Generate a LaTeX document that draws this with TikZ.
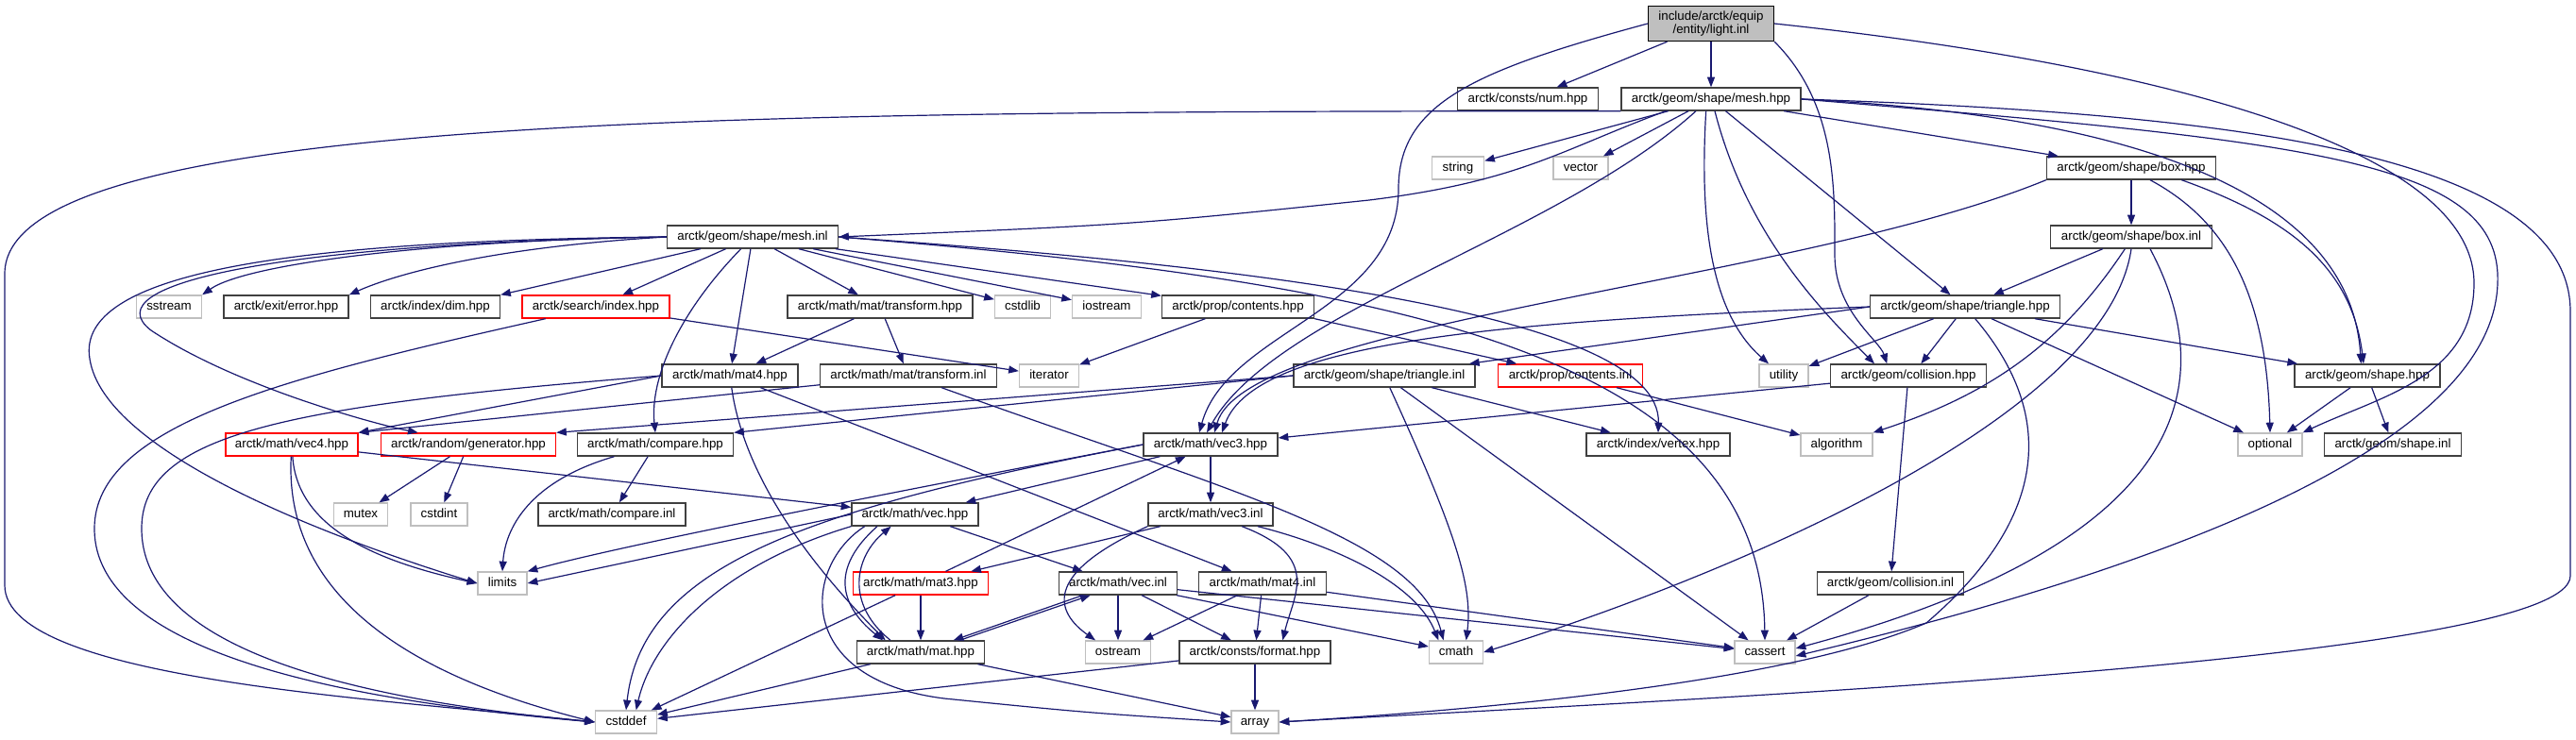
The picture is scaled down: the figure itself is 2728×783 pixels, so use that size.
\documentclass[tikz,border=0pt]{standalone}
\usepackage{fontspec}
\setmainfont{Liberation Sans}
\usetikzlibrary{arrows.meta}

\definecolor{edgeblue}{RGB}{25,25,112}
\definecolor{sysgray}{RGB}{191,191,191}
\definecolor{docborder}{RGB}{64,64,64}

\begin{document}
\begin{tikzpicture}[
    x=0.75pt, y=-0.75pt,
    hdrbox/.style={draw=docborder, line width=1pt, fill=white, font=\fontsize{10}{12}\selectfont,
        minimum height=18pt, inner xsep=1pt, inner ysep=0pt, text height=7.2pt, text depth=2pt},
    sysbox/.style={hdrbox, draw=sysgray},
    cutbox/.style={hdrbox, draw=red},
    rootbox/.style={draw=black, line width=1pt, fill=sysgray, font=\fontsize{10}{11}\selectfont,
        minimum height=27.75pt, inner sep=1pt, align=center},
    incl/.style={draw=edgeblue, line width=0.9pt, -{Triangle[length=8pt, width=6pt]}}
]
    \useasboundingbox (0,0) rectangle (2728,783);

    % Root
    \node[rootbox, minimum width=99.75pt] (light) at (1812,25) {include/arctk/equip\\/entity/light.inl};

    % Row 1
    \node[hdrbox, minimum width=111.75pt] (num) at (1618,105) {arctk/consts/num.hpp};
    \node[hdrbox, minimum width=142.5pt] (meshhpp) at (1812,105) {arctk/geom/shape/mesh.hpp};

    % Row 2
    \node[sysbox, minimum width=41.25pt] (string) at (1544,178) {string};
    \node[sysbox, minimum width=43.5pt] (vector) at (1674,178) {vector};
    \node[hdrbox, minimum width=134.25pt] (boxhpp) at (2257,178) {arctk/geom/shape/box.hpp};

    % Row 3
    \node[hdrbox, minimum width=135.75pt] (meshinl) at (797,251) {arctk/geom/shape/mesh.inl};
    \node[hdrbox, minimum width=128.25pt] (boxinl) at (2257,251) {arctk/geom/shape/box.inl};

    % Row 4
    \node[sysbox, minimum width=51.75pt] (sstream) at (179,325) {sstream};
    \node[hdrbox, minimum width=99pt] (error) at (303,325) {arctk/exit/error.hpp};
    \node[hdrbox, minimum width=102.75pt] (dim) at (461,325) {arctk/index/dim.hpp};
    \node[cutbox, minimum width=117pt] (search) at (631,325) {arctk/search/index.hpp};
    \node[hdrbox, minimum width=147pt] (transform) at (932,325) {arctk/math/mat/transform.hpp};
    \node[sysbox, minimum width=44.25pt] (cstdlib) at (1083,325) {cstdlib};
    \node[sysbox, minimum width=54.75pt] (iostream) at (1172,325) {iostream};
    \node[hdrbox, minimum width=120.75pt] (contents) at (1311,325) {arctk/prop/contents.hpp};
    \node[hdrbox, minimum width=150.75pt] (trihpp) at (2081,325) {arctk/geom/shape/triangle.hpp};

    % Row 5
    \node[hdrbox, minimum width=108pt] (mat4) at (773,398) {arctk/math/mat4.hpp};
    \node[hdrbox, minimum width=140.25pt] (transinl) at (962,398) {arctk/math/mat/transform.inl};
    \node[sysbox, minimum width=47.25pt] (iterator) at (1111,398) {iterator};
    \node[hdrbox, minimum width=144pt] (triinl) at (1466,398) {arctk/geom/shape/triangle.inl};
    \node[cutbox, minimum width=114.75pt] (continl) at (1663,398) {arctk/prop/contents.inl};
    \node[sysbox, minimum width=39pt] (utility) at (1889,398) {utility};
    \node[hdrbox, minimum width=123.75pt] (collision) at (2021,398) {arctk/geom/collision.hpp};
    \node[hdrbox, minimum width=115.5pt] (shape) at (2507,398) {arctk/geom/shape.hpp};

    % Row 6
    \node[cutbox, minimum width=105pt] (vec4) at (309,471) {arctk/math/vec4.hpp};
    \node[cutbox, minimum width=138.75pt] (generator) at (496,471) {arctk/random/generator.hpp};
    \node[hdrbox, minimum width=123.75pt] (compare) at (694,471) {arctk/math/compare.hpp};
    \node[hdrbox, minimum width=106.5pt] (vec3) at (1282,471) {arctk/math/vec3.hpp};
    \node[hdrbox, minimum width=114pt] (vertex) at (1756,471) {arctk/index/vertex.hpp};
    \node[sysbox, minimum width=57pt] (algorithm) at (1945,471) {algorithm};
    \node[sysbox, minimum width=51pt] (optional) at (2404,471) {optional};
    \node[hdrbox, minimum width=108.75pt] (shapeinl) at (2534,471) {arctk/geom/shape.inl};

    % Row 7
    \node[sysbox, minimum width=42.75pt] (mutex) at (382,545) {mutex};
    \node[sysbox, minimum width=45pt] (cstdint) at (465,545) {cstdint};
    \node[hdrbox, minimum width=117pt] (compinl) at (648,545) {arctk/math/compare.inl};
    \node[hdrbox, minimum width=100.5pt] (vec) at (969,545) {arctk/math/vec.hpp};
    \node[hdrbox, minimum width=99pt] (vec3inl) at (1282,545) {arctk/math/vec3.inl};

    % Row 8
    \node[sysbox, minimum width=39pt] (limits) at (532,618) {limits};
    \node[cutbox, minimum width=107.25pt] (mat3) at (975,618) {arctk/math/mat3.hpp};
    \node[hdrbox, minimum width=93.75pt] (vecinl) at (1184,618) {arctk/math/vec.inl};
    \node[hdrbox, minimum width=101.25pt] (mat4inl) at (1337,618) {arctk/math/mat4.inl};
    \node[hdrbox, minimum width=116.25pt] (collinl) at (2002,618) {arctk/geom/collision.inl};

    % Row 9
    \node[hdrbox, minimum width=101.25pt] (mat) at (975,691) {arctk/math/mat.hpp};
    \node[sysbox, minimum width=51.75pt] (ostream) at (1184,691) {ostream};
    \node[hdrbox, minimum width=120pt] (format) at (1329,691) {arctk/consts/format.hpp};
    \node[sysbox, minimum width=42.75pt] (cmath) at (1542,691) {cmath};
    \node[sysbox, minimum width=48pt] (cassert) at (1869,691) {cassert};

    % Row 10
    \node[sysbox, minimum width=48.75pt] (cstddef) at (663,765) {cstddef};
    \node[sysbox, minimum width=37.5pt] (array) at (1329,765) {array};

    % light.inl
    \draw[incl] (light) -- (num);
    \draw[incl] (light) -- (meshhpp);
    \draw[incl] (light.west) .. controls (1560,75) and (1481,110) .. (1481,200) .. controls (1481,330) and (1300,350) .. ([xshift=-9pt]vec3.north);
    \draw[incl] (light.south east) .. controls (1945,110) and (1943,200) .. (1943,270) .. controls (1943,330) and (1990,360) .. ([xshift=-17pt]collision.north);
    \draw[incl] (light.east) .. controls (2300,70) and (2620,160) .. (2620,300) .. controls (2620,400) and (2520,420) .. (optional.north east);

    % mesh.hpp
    \draw[incl] ([xshift=-34pt]meshhpp.south) -- (string);
    \draw[incl] (meshhpp) -- (vector);
    \draw[incl] ([xshift=-36pt]meshhpp.south) .. controls (1650,160) and (1610,192) .. (1450,212) .. controls (1200,238) .. (meshinl.east);
    \draw[incl] (meshhpp.south west) .. controls (800,118) and (5,120) .. (5,290) -- (5,620) .. controls (5,720) and (400,740) .. (cstddef.west);
    \draw[incl] ([xshift=-12pt]meshhpp.south) .. controls (1650,250) and (1350,330) .. ([xshift=-3pt]vec3.north);
    \draw[incl] ([xshift=-4pt]meshhpp.south) .. controls (1800,230) and (1810,330) .. ([xshift=-12pt]utility.north);
    \draw[incl] ([xshift=3pt]meshhpp.south) .. controls (1850,250) and (1930,330) .. ([xshift=-27pt]collision.north);
    \draw[incl] (meshhpp) -- (trihpp);
    \draw[incl] (meshhpp) -- (boxhpp);
    \draw[incl] (meshhpp.east) .. controls (2300,125) and (2490,220) .. ([xshift=-5pt]shape.north);
    \draw[incl] (meshhpp.east) .. controls (2450,150) and (2650,170) .. (2645,300) .. controls (2640,470) and (2300,600) .. ([yshift=-3pt]cassert.east);
    \draw[incl] (meshhpp.east) .. controls (2350,120) and (2722,160) .. (2722,330) -- (2722,610) .. controls (2722,700) and (1800,740) .. (array.east);

    % box.hpp
    \draw[incl] (boxhpp) -- (boxinl);
    \draw[incl] (boxhpp.south west) .. controls (1900,300) and (1320,340) .. ([xshift=3pt]vec3.north);
    \draw[incl] ([xshift=15pt]boxhpp.south) .. controls (2350,230) and (2400,300) .. (optional.north);
    \draw[incl] ([xshift=40pt]boxhpp.south) .. controls (2420,230) and (2490,280) .. ([xshift=-3pt]shape.north);

    % box.inl
    \draw[incl] (boxinl) -- (trihpp);
    \draw[incl] ([xshift=-5pt]boxinl.south) .. controls (2180,370) and (2100,420) .. (algorithm.north east);
    \draw[incl] (boxinl.south) .. controls (2230,450) and (1800,620) .. (cmath.east);
    \draw[incl] ([xshift=15pt]boxinl.south) .. controls (2360,420) and (2300,580) .. ([yshift=3pt]cassert.east);

    % triangle.hpp
    \draw[incl] (trihpp.west) -- ([xshift=-5pt]triinl.north east);
    \draw[incl] (trihpp.west) .. controls (1600,340) and (1330,360) .. ([xshift=9pt]vec3.north);
    \draw[incl] (trihpp) -- (utility);
    \draw[incl] (trihpp) -- ([xshift=10pt]collision.north);
    \draw[incl] (trihpp) -- (shape);
    \draw[incl] (trihpp) -- (optional);
    \draw[incl] (trihpp) .. controls (2170,430) and (2180,540) .. (2040,660) .. controls (1900,720) and (1600,750) .. (array.east);

    % geometry leaves
    \draw[incl] (collision) -- (collinl);
    \draw[incl] (collision) -- (vec3);
    \draw[incl] (collinl) -- (cassert);
    \draw[incl] (shape) -- (optional);
    \draw[incl] (shape) -- (shapeinl);

    % mesh.inl
    \draw[incl] (meshinl.west) .. controls (450,255) and (260,280) .. (sstream.north east);
    \draw[incl] (meshinl.west) .. controls (520,262) and (420,290) .. (error.north east);
    \draw[incl] (meshinl) -- (dim.north east);
    \draw[incl] (meshinl) -- (search);
    \draw[incl] (meshinl.west) .. controls (300,255) and (80,290) .. (95,380) .. controls (110,480) and (350,570) .. (limits.west);
    \draw[incl] (meshinl.west) .. controls (300,258) and (95,300) .. (160,350) .. controls (250,410) and (400,450) .. ([xshift=-40pt]generator.north);
    \draw[incl] (meshinl) .. controls (720,330) and (688,400) .. (compare.north);
    \draw[incl] (meshinl) -- (mat4);
    \draw[incl] (meshinl) -- (transform);
    \draw[incl] (meshinl) -- (cstdlib);
    \draw[incl] (meshinl) -- (iostream);
    \draw[incl] (meshinl) -- (contents);
    \draw[incl] (meshinl.east) .. controls (1300,280) and (1760,330) .. (vertex.north);
    \draw[incl] (meshinl.east) .. controls (1500,300) and (1865,380) .. (cassert.north);

    % row 4 sources
    \draw[incl] (search) -- (iterator);
    \draw[incl] ([xshift=-40pt]search.south) .. controls (300,400) and (100,450) .. (100,560) .. controls (100,700) and (400,745) .. (cstddef.west);
    \draw[incl] (transform) -- (mat4);
    \draw[incl] (transform) -- (transinl);
    \draw[incl] (contents) -- (iterator);
    \draw[incl] (contents.south east) -- (continl);

    % row 5 sources
    \draw[incl] (mat4.west) -- (vec4.north east);
    \draw[incl] (mat4.west) .. controls (300,430) and (150,460) .. (150,560) .. controls (150,700) and (420,745) .. (cstddef.west);
    \draw[incl] (mat4) .. controls (790,520) and (880,620) .. ([xshift=-28pt]mat.north);
    \draw[incl] (mat4) -- (mat4inl);
    \draw[incl] (transinl) -- (vec4.north east);
    \draw[incl] (transinl) .. controls (1300,520) and (1500,570) .. ([xshift=-10pt]cmath.north);
    \draw[incl] (continl) -- (algorithm);
    \draw[incl] (triinl.west) -- (generator.north east);
    \draw[incl] (triinl.west) -- (compare.north east);
    \draw[incl] (triinl) -- (vertex);
    \draw[incl] (triinl) .. controls (1540,560) and (1560,620) .. ([xshift=8pt]cmath.north);
    \draw[incl] (triinl) -- (cassert);

    % row 6 sources
    \draw[incl] (vec4) -- (vec);
    \draw[incl] (vec4) .. controls (315,560) and (400,595) .. (limits.west);
    \draw[incl] (vec4) .. controls (300,640) and (450,720) .. (cstddef.west);
    \draw[incl] (generator) -- (mutex);
    \draw[incl] (generator) -- (cstdint);
    \draw[incl] (compare) .. controls (560,510) and (535,560) .. (limits.north);
    \draw[incl] (compare) -- (compinl);
    \draw[incl] (vec3) -- (vec);
    \draw[incl] (vec3) -- (vec3inl);
    \draw[incl] (vec3.west) .. controls (900,530) and (650,580) .. (limits.north east);
    \draw[incl] (vec3.west) .. controls (850,540) and (680,600) .. (cstddef.north);

    % row 7 sources
    \draw[incl] (vec) -- (vecinl);
    \draw[incl] (vec.west) -- (limits.east);
    \draw[incl] (vec.south west) .. controls (760,600) and (690,680) .. ([xshift=8pt]cstddef.north);
    \draw[incl] ([xshift=-30pt]vec.south) .. controls (870,610) and (900,650) .. ([xshift=-30pt]mat.north);
    \draw[incl] ([xshift=-24pt]mat.north) .. controls (895,640) and (905,590) .. ([xshift=-19pt]vec.south);
    \draw[incl] ([xshift=-40pt]vec.south) .. controls (850,600) and (840,720) .. (1000,740) .. controls (1150,755) .. (array.west);
    \draw[incl] (vec3inl) -- (mat3);
    \draw[incl] (vec3inl.south west) .. controls (1100,610) and (1120,650) .. ([xshift=-18pt]ostream.north);
    \draw[incl] (vec3inl) .. controls (1420,580) and (1500,620) .. ([xshift=-14pt]cmath.north);
    \draw[incl] (vec3inl) .. controls (1400,590) and (1370,630) .. ([xshift=22pt]format.north);

    % row 8 sources
    \draw[incl] (mat3) -- (vec3);
    \draw[incl] (mat3) -- (mat);
    \draw[incl] (mat3) -- (cstddef);
    \draw[incl] (vecinl) -- (ostream);
    \draw[incl] (vecinl) -- (format);
    \draw[incl] (vecinl) -- (cmath);
    \draw[incl] (vecinl) -- (cassert);
    \draw[incl] ([xshift=-28pt]vecinl.south) -- ([xshift=26pt]mat.north);
    \draw[incl] ([xshift=31pt]mat.north) -- ([xshift=-22pt]vecinl.south);
    \draw[incl] (mat4inl) -- (ostream);
    \draw[incl] (mat4inl) -- (format);
    \draw[incl] (mat4inl) -- (cassert);

    % row 9 sources
    \draw[incl] (mat) -- (cstddef);
    \draw[incl] (mat) -- (array);
    \draw[incl] (format) -- (cstddef);
    \draw[incl] (format) -- (array);
\end{tikzpicture}
\end{document}
